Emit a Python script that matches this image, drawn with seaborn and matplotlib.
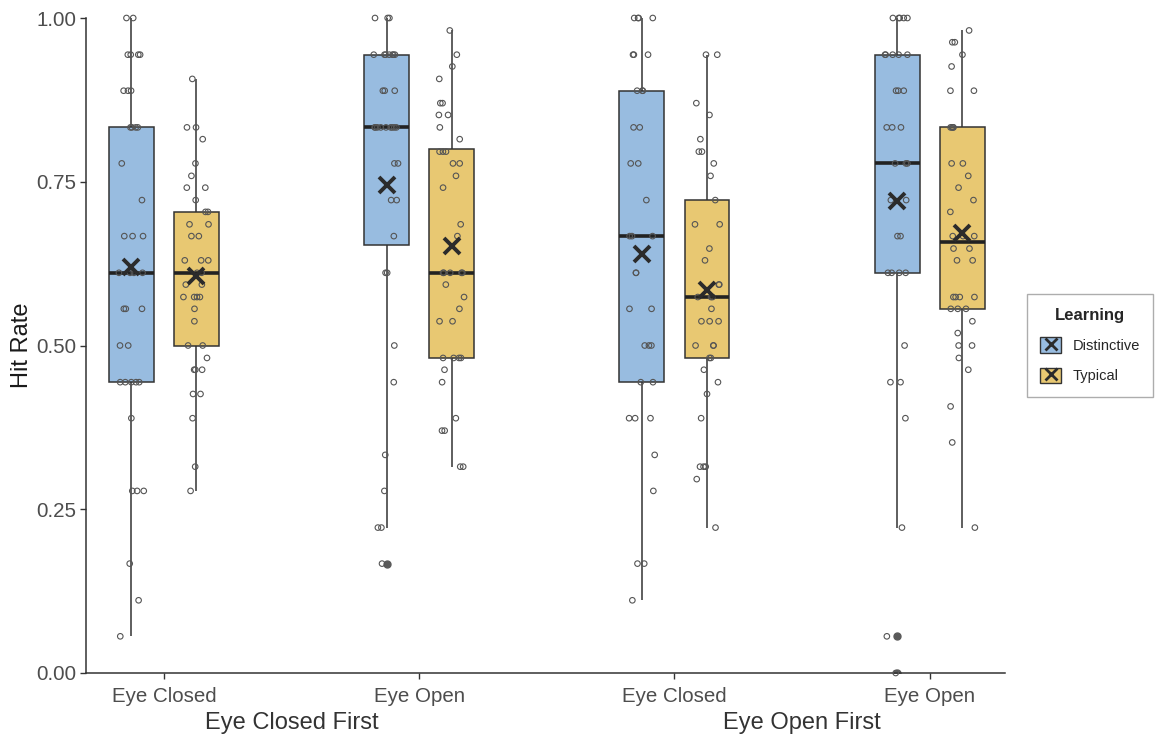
import numpy as np
import pandas as pd
import matplotlib
matplotlib.use('Agg')
import matplotlib.pyplot as plt
import matplotlib.transforms as mtransforms
from matplotlib.patches import Patch
from matplotlib.lines import Line2D
from matplotlib.legend_handler import HandlerTuple
import seaborn as sns

sns.set_style("ticks")
plt.rcParams['font.family'] = ['Liberation Sans', 'DejaVu Sans']

# --- categories ---
orders = ["Eye Closed First", "Eye Open First"]
conditions = ["Eye Closed", "Eye Open"]
learning = ["Distinctive", "Typical"]
colors = {"Distinctive": "#98BCE0", "Typical": "#E8C872"}
y_ticks = [0.0, 0.25, 0.50, 0.75, 1.00]

# --- hit rates (one list per box) ---
ecf_closed_dist = [0.056, 0.111, 0.167] + [0.278] * 3 + [0.389] + [0.444] * 5 + [0.5] * 2 \
    + [0.556] * 3 + [0.611] * 4 + [0.667] * 3 + [0.722, 0.778] + [0.833] * 4 \
    + [0.889] * 3 + [0.944] * 4 + [1.0] * 2
ecf_closed_typ = [0.278, 0.315, 0.389] + [0.426] * 2 + [0.463] * 3 + [0.481] + [0.5] * 2 \
    + [0.537, 0.556] + [0.574] * 4 + [0.593] * 2 + [0.611] * 2 + [0.630] * 3 + [0.667] * 2 \
    + [0.685] * 2 + [0.704] * 2 + [0.722] + [0.741] * 2 + [0.759, 0.778, 0.815] \
    + [0.833] * 2 + [0.907]
ecf_open_dist = [0.167] + [0.222] * 2 + [0.278, 0.333, 0.444, 0.5] + [0.611] * 2 + [0.667] \
    + [0.722] * 2 + [0.778] * 2 + [0.833] * 9 + [0.889] * 3 + [0.944] * 7 + [1.0] * 3
ecf_open_typ = [0.315] * 2 + [0.370] * 2 + [0.389, 0.444, 0.463] + [0.481] * 4 + [0.537] * 2 \
    + [0.556, 0.574, 0.593] + [0.611] * 5 + [0.667, 0.685, 0.741, 0.759] + [0.778] * 2 \
    + [0.796] * 3 + [0.815, 0.833] + [0.852] * 2 + [0.870] * 2 + [0.907, 0.926, 0.944, 0.981]
eof_closed_dist = [0.111] + [0.167] * 2 + [0.278, 0.333] + [0.389] * 3 + [0.444] * 2 + [0.5] * 3 \
    + [0.556] * 2 + [0.611] * 2 + [0.667] * 3 + [0.722] + [0.778] * 2 + [0.833] * 2 \
    + [0.889] * 3 + [0.944] * 3 + [1.0] * 4
eof_closed_typ = [0.222, 0.296] + [0.315] * 3 + [0.389, 0.426, 0.444, 0.463] + [0.481] * 2 \
    + [0.5] * 3 + [0.537] * 3 + [0.556] + [0.574] * 3 + [0.593] * 2 + [0.630, 0.648] \
    + [0.685] * 2 + [0.722, 0.759, 0.778] + [0.796] * 2 + [0.815, 0.852, 0.870] + [0.944] * 2
eof_open_dist = [0.0, 0.056, 0.222, 0.389] + [0.444] * 2 + [0.5] + [0.611] * 4 + [0.667] * 2 \
    + [0.722] * 2 + [0.778] * 3 + [0.833] * 3 + [0.889] * 3 + [0.944] * 5 + [1.0] * 5
eof_open_typ = [0.222, 0.352, 0.407, 0.463, 0.481] + [0.5] * 2 + [0.519, 0.537] + [0.556] * 3 \
    + [0.574] * 4 + [0.630] * 2 + [0.648] * 2 + [0.667] * 3 + [0.704, 0.722, 0.741, 0.759] \
    + [0.778] * 2 + [0.833] * 4 + [0.889] * 2 + [0.926, 0.944] + [0.963] * 2 + [0.981]

boxes = [
    (orders[0], conditions[0], learning[0], ecf_closed_dist),
    (orders[0], conditions[0], learning[1], ecf_closed_typ),
    (orders[0], conditions[1], learning[0], ecf_open_dist),
    (orders[0], conditions[1], learning[1], ecf_open_typ),
    (orders[1], conditions[0], learning[0], eof_closed_dist),
    (orders[1], conditions[0], learning[1], eof_closed_typ),
    (orders[1], conditions[1], learning[0], eof_open_dist),
    (orders[1], conditions[1], learning[1], eof_open_typ),
]

# dodge offset of the two learning boxes within a condition slot
half_dodge = 0.1275

rows = []
for order, cond, learn, values in boxes:
    slot = orders.index(order) * 2 + conditions.index(cond)
    pos = slot + (-half_dodge if learn == learning[0] else half_dodge)
    for v in values:
        rows.append({"Order": order, "Condition": cond, "Learning": learn,
                     "HitRate": v, "pos": pos})
df = pd.DataFrame(rows)

np.random.seed(7)

fig = plt.figure(figsize=(11.55, 7.36), dpi=100)
ax = fig.add_axes([86 / 1155, 63 / 736, 919 / 1155, 655 / 736])

sns.boxplot(data=df, x="pos", y="HitRate", hue="Learning", palette=colors,
            native_scale=True, orient="x", dodge=False, width=0.69, saturation=1,
            linecolor="#333333", linewidth=1.1, showcaps=False,
            flierprops=dict(marker="o", markerfacecolor="#5a5a5a",
                            markeredgecolor="#5a5a5a", markersize=5),
            medianprops=dict(color="#222222", linewidth=2.6),
            legend=False, ax=ax)

sns.stripplot(data=df, x="pos", y="HitRate", native_scale=True, orient="x",
              jitter=0.2, size=4, facecolors="none", edgecolor="#555555",
              linewidth=0.8, zorder=3, clip_on=False, ax=ax)

sns.pointplot(data=df, x="pos", y="HitRate", native_scale=True, orient="x",
              estimator="mean", errorbar=None, color="#2b2b2b",
              marker="x", markersize=11, markeredgewidth=2.8, linestyle="none",
              zorder=5, ax=ax)

ax.set_xlim(-0.305, 3.295)
ax.set_ylim(0, 1)
ax.set_xticks(range(4))
ax.set_xticklabels(conditions * 2)
ax.set_yticks(y_ticks)
ax.set_yticklabels([f"{t:.2f}" for t in y_ticks])
ax.set_xlabel("")
ax.set_ylabel("Hit Rate", fontsize=17, color="#1a1a1a")
ax.yaxis.set_label_coords(-0.058, 0.5)

for side in ["top", "right"]:
    ax.spines[side].set_visible(False)
for side in ["left", "bottom"]:
    ax.spines[side].set_color("#333333")
    ax.spines[side].set_linewidth(1.1)
ax.tick_params(axis="both", direction="out", length=4, width=1, color="#333333",
               labelsize=14.8, labelcolor="#4d4d4d", pad=3)
ax.tick_params(axis="x", pad=6)

# second level of x labels (order of sessions)
trans = mtransforms.blended_transform_factory(ax.transData, ax.transAxes)
for i, order in enumerate(orders):
    ax.text(i * 2 + 0.5, -0.076, order, transform=trans, ha="center", va="center",
            fontsize=17, color="#333333")

handles = [
    (Patch(facecolor=colors[l], edgecolor="#333333", linewidth=1),
     Line2D([], [], color="#2b2b2b", marker="x", linestyle="none",
            markersize=9, markeredgewidth=2))
    for l in learning
]
leg = fig.legend(handles, learning, title="Learning",
                 handler_map={tuple: HandlerTuple(ndivide=1)},
                 loc="center left", bbox_to_anchor=(1027 / 1155, 1 - 345.5 / 736),
                 borderaxespad=0, frameon=True, fancybox=False, fontsize=10.5,
                 title_fontproperties={"weight": "bold", "size": 12},
                 handlelength=1.45, handleheight=1.3, borderpad=0.9,
                 labelspacing=1.0, handletextpad=0.8)
leg.get_frame().set_edgecolor("#999999")
leg.get_frame().set_linewidth(1)

fig.savefig("out.png", dpi=100)
